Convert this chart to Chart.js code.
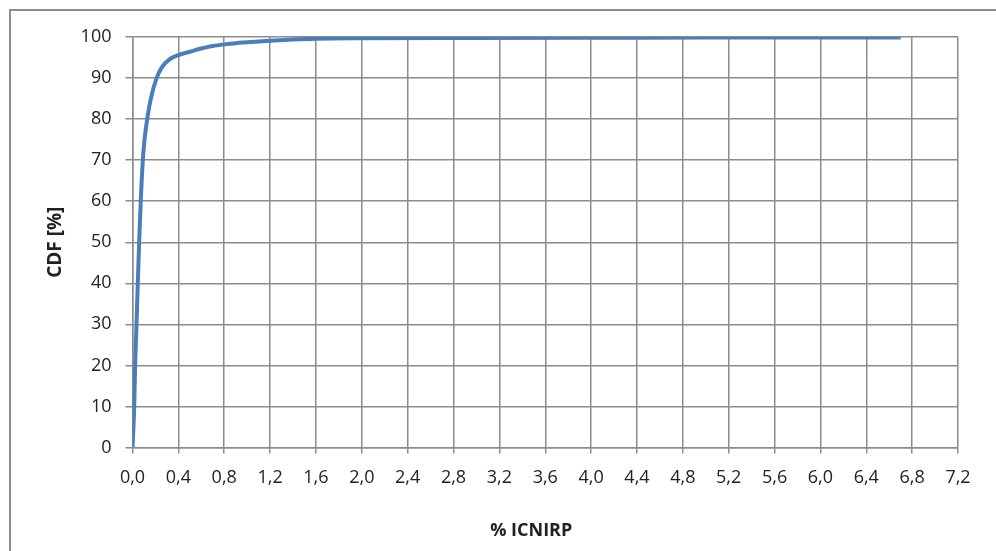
<!DOCTYPE html>
<html>
<head>
<meta charset="utf-8">
<script src="https://cdn.jsdelivr.net/npm/chart.js@4/dist/chart.umd.min.js"></script>
<style>
  body { margin: 0; background: #fff; overflow: hidden; }
  .frame { position: absolute; left: 9px; top: 9px; width: 1100px; height: 700px; border: 2px solid #8c8c8c; }
  #cdfChart { position: absolute; left: 0; top: 0; }
</style>
</head>
<body>
<div class="frame"></div>
<canvas id="cdfChart" width="996" height="551"></canvas>
<script>
// % ICNIRP values (x) and cumulative share (y)
const icnirp = [0, 0.015, 0.023, 0.035, 0.046, 0.058, 0.072, 0.09, 0.105, 0.128, 0.16, 0.21,
  0.26, 0.32, 0.4, 0.5, 0.6, 0.7, 0.8, 0.9, 1.0, 1.2, 1.4, 1.6, 2.0, 3.0, 4.0, 5.0, 6.7];
const cdf = [0, 10, 20, 30, 40, 50, 60, 70, 75, 80, 85, 90,
  92.8, 94.5, 95.6, 96.4, 97.2, 97.8, 98.2, 98.5, 98.7, 99.1, 99.4, 99.6, 99.7, 99.75, 99.8, 99.85, 99.9];

const xTitle = "% ICNIRP";
const yTitle = "CDF [%]";

const points = icnirp.map((x, i) => ({ x: x, y: cdf[i] }));

const gridColor = "#8c8c8c";
const textColor = "#222222";

new Chart(document.getElementById("cdfChart"), {
  type: "line",
  data: {
    datasets: [
      {
        data: points,
        borderColor: "#4a7ebb",
        borderWidth: 4,
        pointRadius: 0,
        cubicInterpolationMode: "monotone",
        fill: false,
      },
    ],
  },
  options: {
    responsive: false,
    animation: false,
    layout: { padding: { top: 37, right: 38, left: 0, bottom: 0 } },
    plugins: { legend: { display: false }, tooltip: { enabled: false } },
    scales: {
      x: {
        type: "linear",
        min: 0,
        max: 7.2,
        ticks: {
          stepSize: 0.4,
          color: textColor,
          padding: 14,
          maxRotation: 0,
          font: { family: "Open Sans", size: 18 },
          callback: (v) => v.toFixed(1).replace(".", ","),
        },
        grid: { color: gridColor, lineWidth: 1.5, tickLength: 6, tickColor: gridColor },
        border: { color: gridColor, width: 1.5 },
        title: {
          display: true,
          text: xTitle + "      ",
          color: textColor,
          padding: { top: 0, bottom: 9 },
          font: { family: "Open Sans", size: 18, weight: "bold" },
        },
        afterFit: (scale) => {
          scale.height = 103.5;
        },
      },
      y: {
        min: 0,
        max: 100,
        ticks: {
          stepSize: 10,
          color: textColor,
          padding: 14,
          font: { family: "Open Sans", size: 18 },
        },
        grid: { color: gridColor, lineWidth: 1.5, tickLength: 7, tickColor: gridColor },
        border: { color: gridColor, width: 1.5 },
        title: {
          display: true,
          text: yTitle,
          color: textColor,
          padding: { top: 44, bottom: 0 },
          font: { family: "Open Sans", size: 19, weight: "bold" },
        },
        afterFit: (scale) => {
          scale.width = 132.5;
        },
      },
    },
  },
});
</script>
</body>
</html>
